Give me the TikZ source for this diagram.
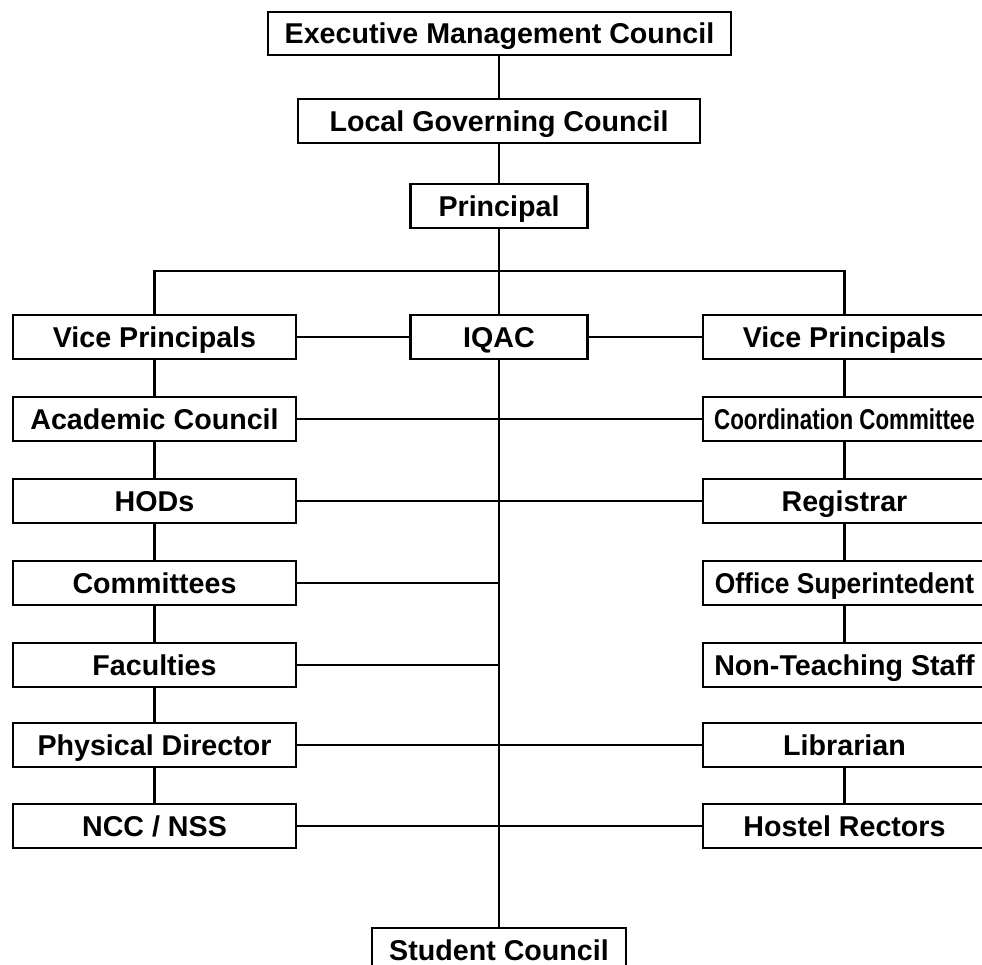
\documentclass[tikz,border=0pt]{standalone}
\usepackage{fontspec}
\setmainfont{Liberation Sans}
\usepackage{graphicx}
\usetikzlibrary{positioning}

\begin{document}
\begin{tikzpicture}[x=0.02cm, y=-0.02cm,
		every node/.style={font=\fontsize{16.3}{19}\selectfont\bfseries},
		unit/.style={draw, line width=1.4pt, inner sep=0pt, text height=11.7pt, text depth=0pt,
			minimum width=5.66cm, minimum height=0.88cm},
		small unit/.style={unit, minimum width=3.54cm},
		link/.style={line width=1.2pt}]
		
		\useasboundingbox (0,0) rectangle (982,964);
		
		% top of the chart
		\node[unit, minimum width=9.26cm, minimum height=0.86cm] (emc) at (499.5,33.5) {Executive Management Council};
		\node[unit, minimum width=8.04cm] (lgc) at (499,121) {Local Governing Council};
		\node[small unit] (principal) at (499,206) {Principal};
		\node[small unit] (iqac) at (499,337) {IQAC};
		\node[unit, minimum width=5.08cm] (student) at (499,950) {Student Council};
		
		% left column
		\node[unit] (vpleft) at (154.5,337) {Vice Principals};
		\node[unit] (academic) at (154.5,419) {Academic Council};
		\node[unit] (hods) at (154.5,501) {HODs};
		\node[unit] (committees) at (154.5,583) {Committees};
		\node[unit] (faculties) at (154.5,665) {Faculties};
		\node[unit] (physical) at (154.5,745) {Physical Director};
		\node[unit] (nccnss) at (154.5,826) {NCC / NSS};
		
		% right column
		\node[unit] (vpright) at (844.5,337) {Vice Principals};
		\node[unit] (coord) at (844.5,419) {\scalebox{0.78}[1]{Coordination Committee}};
		\node[unit] (registrar) at (844.5,501) {Registrar};
		\node[unit] (office) at (844.5,583) {\scalebox{0.92}[1]{Office Superintedent}};
		\node[unit] (nonteach) at (844.5,665) {Non-Teaching Staff};
		\node[unit] (librarian) at (844.5,745) {Librarian};
		\node[unit] (hostel) at (844.5,826) {Hostel Rectors};
		
		\coordinate (bar) at (499,271);
		
		\draw[link] (emc.south -| lgc.north) -- (lgc.north);
		\draw[link] (lgc.south) -- (principal.north);
		\draw[link] (principal.south) -- (iqac.north);
		\draw[link] (iqac.south) -- (student.north);
		\draw[link] (vpleft.north) |- (bar) -| (vpright.north);
		
		\draw[link] (vpleft.east) -- (iqac.west);
		\draw[link] (iqac.east) -- (vpright.west);
		\draw[link] (academic.east) -- (coord.west);
		\draw[link] (hods.east) -- (registrar.west);
		\draw[link] (committees.east) -- (committees.east -| iqac.south);
		\draw[link] (faculties.east) -- (faculties.east -| iqac.south);
		\draw[link] (physical.east) -- (librarian.west);
		\draw[link] (nccnss.east) -- (hostel.west);
		
		\foreach \a/\b in {vpleft/academic, academic/hods, hods/committees, committees/faculties, faculties/physical, physical/nccnss,
			vpright/coord, coord/registrar, registrar/office, office/nonteach, librarian/hostel}
		\draw[link] (\a.south) -- (\b.north);
		
\end{tikzpicture}
\end{document}
